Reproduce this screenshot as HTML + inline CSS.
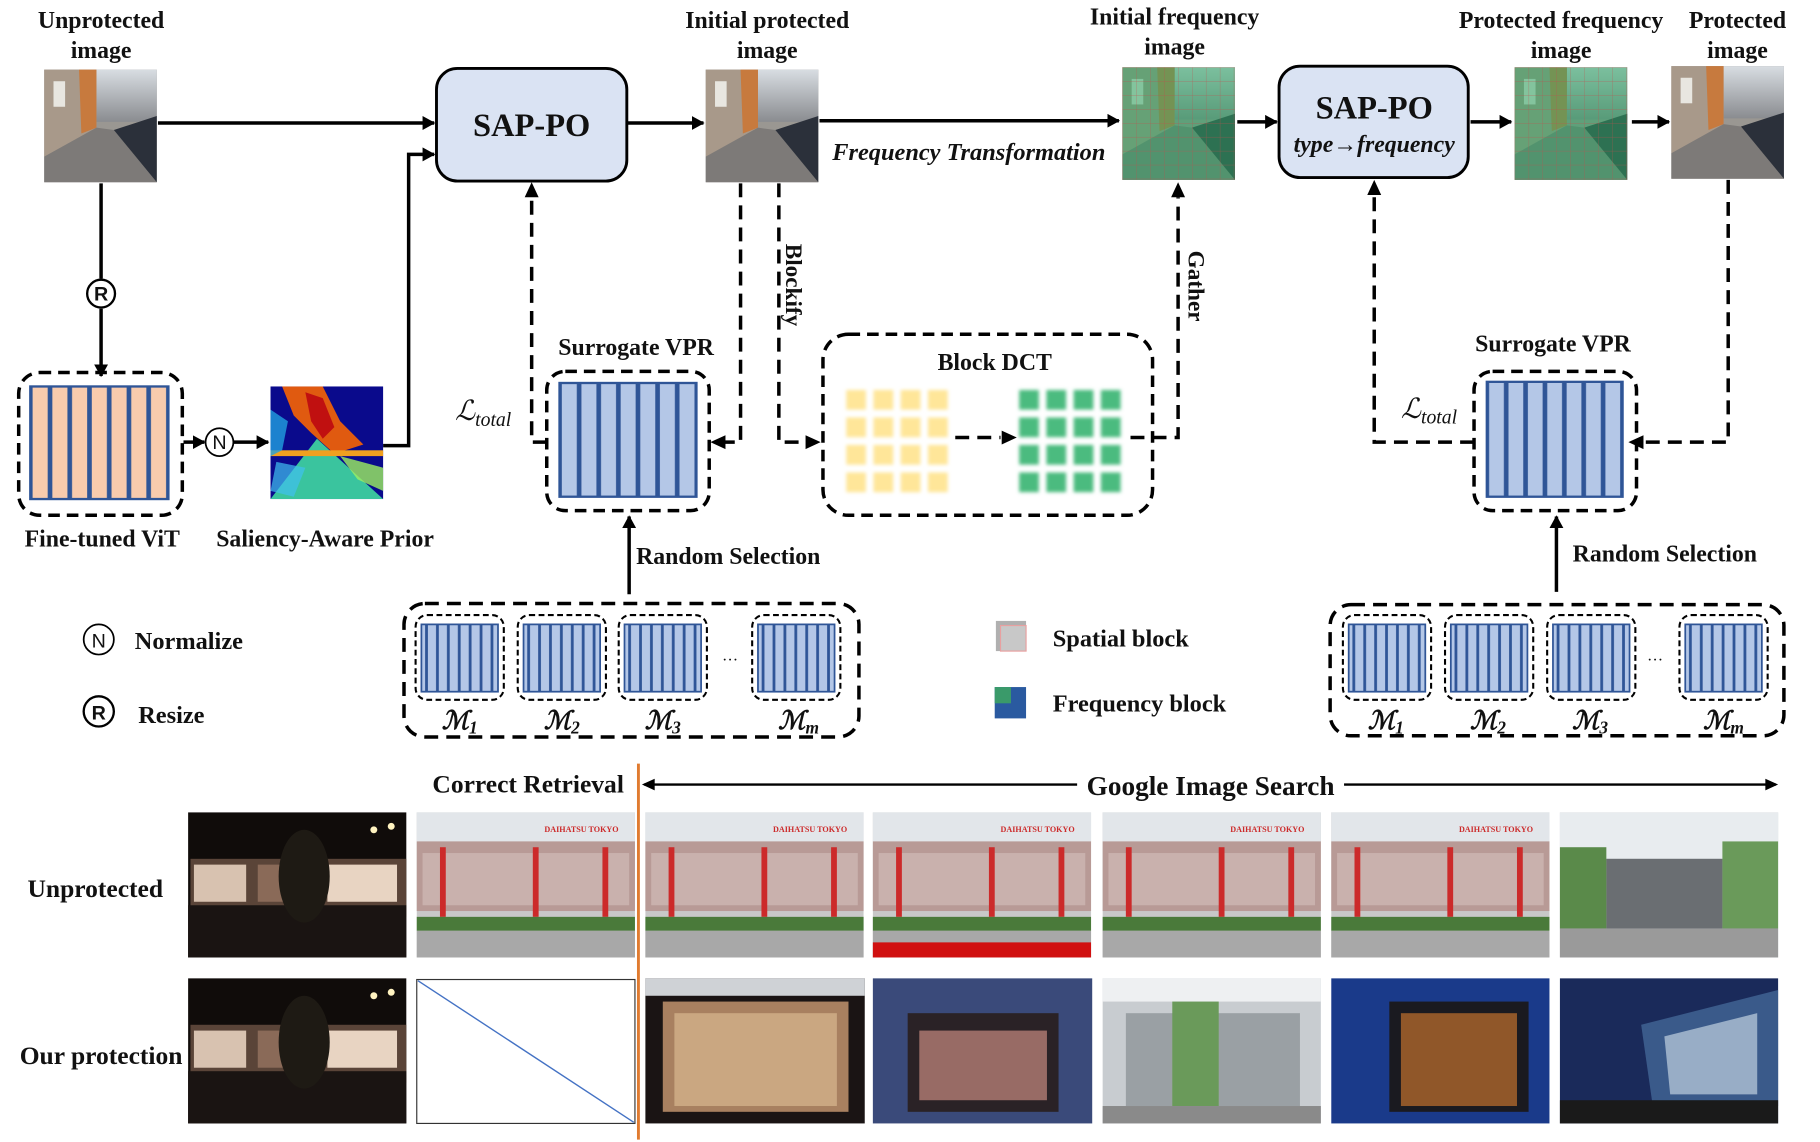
<!DOCTYPE html>
<html><head><meta charset="utf-8"><style>
html,body{margin:0;padding:0;background:#fff;width:1820px;height:1142px;overflow:hidden}
svg{display:block}
text{font-family:"Liberation Serif",serif;font-weight:bold;fill:#111}
</style></head><body>
<svg width="1820" height="1142" viewBox="0 0 1568 984" xmlns="http://www.w3.org/2000/svg">
<defs>
<marker id="ah2" markerWidth="12" markerHeight="12" refX="10" refY="6" orient="auto" markerUnits="userSpaceOnUse"><path d="M0,0 L11,6 L0,12 Z" fill="#000"/></marker>
<pattern id="vitbars" x="26" y="0" width="17" height="2000" patternUnits="userSpaceOnUse"><rect x="1" y="-10" width="15" height="2020" fill="#f8cbad" stroke="#2f5597" stroke-width="2"/></pattern>
<pattern id="vprbars" x="482" y="0" width="16.9" height="2000" patternUnits="userSpaceOnUse"><rect x="1" y="-10" width="14.9" height="2020" fill="#b4c7e7" stroke="#2f5597" stroke-width="2"/></pattern>
<pattern id="vprbars2" x="1281" y="0" width="16.7" height="2000" patternUnits="userSpaceOnUse"><rect x="1" y="-10" width="14.7" height="2020" fill="#b4c7e7" stroke="#2f5597" stroke-width="2"/></pattern>
<pattern id="mb" x="0" y="0" width="9.4" height="2000" patternUnits="userSpaceOnUse"><rect x="0.6" y="-10" width="8.2" height="2020" fill="#b4c7e7" stroke="#2f5597" stroke-width="1.2"/></pattern>
<pattern id="ysq" x="729" y="336" width="23.5" height="23.7" patternUnits="userSpaceOnUse"><rect x="0" y="0" width="17" height="17" fill="#ffe699"/></pattern>
<pattern id="gsq" x="878" y="336" width="23.5" height="23.7" patternUnits="userSpaceOnUse"><rect x="0" y="0" width="17" height="17" fill="#4cbb7f"/></pattern>
<pattern id="grid" x="0" y="0" width="12" height="12" patternUnits="userSpaceOnUse"><path d="M12,0 L0,0 0,12" fill="none" stroke="#c0504d" stroke-width="0.6" opacity="0.7"/></pattern>
<filter id="blur"><feGaussianBlur stdDeviation="1.5"/></filter>
<linearGradient id="sky" x1="0" y1="0" x2="0" y2="1"><stop offset="0" stop-color="#d8dde2"/><stop offset="1" stop-color="#8a8c90"/></linearGradient>
<g id="street">
 <rect width="97" height="97" fill="#9a9792"/>
 <rect x="45" width="52" height="45" fill="url(#sky)"/>
 <polygon points="0,0 45,0 45,55 0,75" fill="#a8998a"/>
 <polygon points="30,0 45,0 45,50 32,55" fill="#c77a3e"/>
 <polygon points="0,75 45,50 60,52 97,97 0,97" fill="#7d7a78"/>
 <polygon points="60,52 97,40 97,97" fill="#2b303a"/>
 <rect x="8" y="10" width="10" height="22" fill="#e8e6e0"/>
</g>
<g id="night">
 <rect width="188" height="125" fill="#100c0a"/>
 <rect x="2" y="40" width="186" height="50" fill="#5a4438"/>
 <rect x="5" y="45" width="45" height="32" fill="#d8c2b0"/>
 <rect x="120" y="45" width="60" height="32" fill="#e8d4c2"/>
 <rect x="60" y="45" width="50" height="32" fill="#8a6a58"/>
 <rect x="0" y="80" width="188" height="45" fill="#1a1412"/>
 <ellipse cx="100" cy="55" rx="22" ry="40" fill="#1e1a14"/>
 <circle cx="160" cy="15" r="3" fill="#fff3c0"/><circle cx="175" cy="12" r="3" fill="#fff3c0"/>
</g>
<g id="day">
 <rect width="188" height="125" fill="#c8c8c8"/>
 <rect x="0" y="0" width="188" height="25" fill="#e2e6ea"/>
 <rect x="0" y="25" width="188" height="60" fill="#b89a96"/>
 <rect x="5" y="35" width="178" height="45" fill="#c9b1ad"/>
 <rect x="20" y="30" width="5" height="60" fill="#cc2a2a"/>
 <rect x="100" y="30" width="5" height="60" fill="#cc2a2a"/>
 <rect x="160" y="30" width="5" height="60" fill="#cc2a2a"/>
 <rect x="0" y="90" width="188" height="12" fill="#4a7a3a"/>
 <rect x="0" y="102" width="188" height="23" fill="#a8a8a8"/>
 <text x="110" y="17" font-size="7" style="fill:#cc2a2a">DAIHATSU TOKYO</text>
</g>
<g id="modelbox">
 <rect x="0" y="0" width="76" height="73" rx="10" fill="none" stroke="#000" stroke-width="1.8" stroke-dasharray="5,3"/>
 <rect x="5" y="8" width="66" height="58" fill="url(#mb)" stroke="#2f5597" stroke-width="1.5"/>
</g>
</defs>

<g font-size="20.5" text-anchor="middle">
<text x="87" y="24">Unprotected</text><text x="87" y="50">image</text>
<text x="661" y="24">Initial protected</text><text x="661" y="50">image</text>
<text x="1012" y="21">Initial frequency</text><text x="1012" y="47">image</text>
<text x="1345" y="24">Protected frequency</text><text x="1345" y="50">image</text>
<text x="1497" y="24">Protected</text><text x="1497" y="50">image</text>
</g>

<use href="#street" x="38" y="60"/>
<use href="#street" x="608" y="60"/>
<use href="#street" x="1440" y="57"/>
<g transform="translate(967,58)"><use href="#street"/><rect width="97" height="97" fill="#2fa866" opacity="0.55"/><rect width="97" height="97" fill="url(#grid)"/></g>
<g transform="translate(1305,58)"><use href="#street"/><rect width="97" height="97" fill="#2fa866" opacity="0.55"/><rect width="97" height="97" fill="url(#grid)"/></g>

<rect x="376" y="59" width="164" height="97" rx="18" fill="#dae3f3" stroke="#000" stroke-width="2.5"/>
<text x="458" y="117" font-size="28" text-anchor="middle">SAP-PO</text>
<rect x="1102" y="57" width="163" height="96" rx="18" fill="#dae3f3" stroke="#000" stroke-width="2.5"/>
<text x="1184" y="102" font-size="28" text-anchor="middle">SAP-PO</text>
<text x="1184" y="131" font-size="20.5" font-style="italic" text-anchor="middle">type→frequency</text>

<g stroke="#000" stroke-width="3" fill="none">
<line x1="136" y1="106" x2="374" y2="106" marker-end="url(#ah2)"/>
<line x1="541" y1="106" x2="606" y2="106" marker-end="url(#ah2)"/>
<line x1="706" y1="104" x2="964" y2="104" marker-end="url(#ah2)"/>
<line x1="1066" y1="105" x2="1100" y2="105" marker-end="url(#ah2)"/>
<line x1="1267" y1="105" x2="1302" y2="105" marker-end="url(#ah2)"/>
<line x1="1406" y1="105" x2="1438" y2="105" marker-end="url(#ah2)"/>
<line x1="87" y1="158" x2="87" y2="240"/>
<line x1="87" y1="266" x2="87" y2="324" marker-end="url(#ah2)"/>
<line x1="158" y1="381" x2="176" y2="381" marker-end="url(#ah2)"/>
<line x1="201" y1="381" x2="231" y2="381" marker-end="url(#ah2)"/>
<polyline points="330,384 352,384 352,133 374,133" marker-end="url(#ah2)"/>
<line x1="542" y1="512" x2="542" y2="445" marker-end="url(#ah2)"/>
<line x1="1341" y1="510" x2="1341" y2="445" marker-end="url(#ah2)"/>
</g>
<text x="717" y="138" font-size="21" font-style="italic">Frequency Transformation</text>

<g font-size="17" text-anchor="middle">
<circle cx="87" cy="253" r="12" fill="#fff" stroke="#000" stroke-width="2"/><text x="87" y="259" style="font-family:'Liberation Sans',sans-serif">R</text>
<circle cx="189" cy="381" r="12" fill="#fff" stroke="#000" stroke-width="1.5"/><text x="189" y="387" style="font-family:'Liberation Sans',sans-serif;font-weight:normal">N</text>
<circle cx="85" cy="551" r="13" fill="#fff" stroke="#000" stroke-width="1.5"/><text x="85" y="558" style="font-family:'Liberation Sans',sans-serif;font-weight:normal">N</text>
<circle cx="85" cy="613" r="13" fill="#fff" stroke="#000" stroke-width="2"/><text x="85" y="620" style="font-family:'Liberation Sans',sans-serif">R</text>
</g>

<rect x="16" y="321" width="141" height="123" rx="18" fill="none" stroke="#000" stroke-width="3" stroke-dasharray="10,6"/>
<rect x="26" y="333" width="119" height="97" fill="url(#vitbars)" stroke="#2f5597" stroke-width="2"/>
<g transform="translate(233,333)">
<rect width="97" height="97" fill="#0a0a8c"/>
<path d="M0,97 L40,45 L97,97 Z" fill="#3fd8a0" opacity="0.9"/>
<path d="M10,0 L45,0 L60,30 L80,50 L55,58 L35,40 L20,25 Z" fill="#e05a10"/>
<path d="M30,5 L45,10 L55,35 L45,45 L35,30 Z" fill="#c01010"/>
<rect x="0" y="55" width="97" height="5" fill="#f0a020"/>
<path d="M0,20 L15,30 L10,55 L0,60 Z" fill="#20a0e0" opacity="0.8"/>
<path d="M60,60 L97,70 L97,90 L75,80 Z" fill="#9ef060" opacity="0.8"/>
<path d="M5,65 L30,70 L20,95 L0,90 Z" fill="#40c0f0" opacity="0.7"/>
</g>
<g font-size="20.5" text-anchor="middle">
<text x="88" y="471">Fine-tuned ViT</text>
<text x="280" y="471">Saliency-Aware Prior</text>
</g>

<g stroke="#000" stroke-width="3" fill="none" stroke-dasharray="12,7">
<polyline points="471,381 458,381 458,170"/>
<polyline points="638,158 638,381 624,381"/>
<polyline points="671,158 671,381 695,381"/>
<line x1="823" y1="377" x2="862" y2="377"/>
<polyline points="974,377 1015,377 1015,170"/>
<polyline points="1270,381 1184,381 1184,170"/>
<polyline points="1489,155 1489,381 1416,381"/>
</g>
<g fill="#000">
<path d="M458,157 L452,170 L464,170 Z"/>
<path d="M1015,157 L1009,170 L1021,170 Z"/>
<path d="M1184,155 L1178,168 L1190,168 Z"/>
<path d="M612,381 L625,375 L625,387 Z"/>
<path d="M707,381 L694,375 L694,387 Z"/>
<path d="M876,377 L863,371 L863,383 Z"/>
<path d="M1403,381 L1416,375 L1416,387 Z"/>
</g>
<text transform="translate(677,210) rotate(90)" font-size="20">Blockify</text>
<text transform="translate(1024,216) rotate(90)" font-size="20">Gather</text>

<text x="392" y="362" font-size="24" font-style="italic" style="font-weight:normal">ℒ<tspan font-size="17" dy="5">total</tspan></text>
<text x="1207" y="360" font-size="24" font-style="italic" style="font-weight:normal">ℒ<tspan font-size="17" dy="5">total</tspan></text>

<text x="548" y="306" font-size="20.5" text-anchor="middle">Surrogate VPR</text>
<rect x="471" y="320" width="140" height="120" rx="16" fill="none" stroke="#000" stroke-width="3" stroke-dasharray="10,6"/>
<rect x="482" y="330" width="118" height="98" fill="url(#vprbars)" stroke="#2f5597" stroke-width="2"/>
<text x="1338" y="303" font-size="20.5" text-anchor="middle">Surrogate VPR</text>
<rect x="1270" y="320" width="140" height="120" rx="16" fill="none" stroke="#000" stroke-width="3" stroke-dasharray="10,6"/>
<rect x="1281" y="329" width="117" height="99" fill="url(#vprbars2)" stroke="#2f5597" stroke-width="2"/>

<rect x="709" y="288" width="284" height="156" rx="22" fill="none" stroke="#000" stroke-width="3" stroke-dasharray="10,6"/>
<text x="857" y="319" font-size="20.5" text-anchor="middle">Block DCT</text>
<rect x="729" y="336" width="88" height="89" fill="url(#ysq)" filter="url(#blur)"/>
<rect x="878" y="336" width="88" height="89" fill="url(#gsq)" filter="url(#blur)"/>

<text x="548" y="486" font-size="20.5">Random Selection</text>
<text x="1355" y="484" font-size="20.5">Random Selection</text>

<rect x="348" y="520" width="392" height="115" rx="18" fill="none" stroke="#000" stroke-width="3" stroke-dasharray="12,7"/>
<use href="#modelbox" x="358" y="530"/><use href="#modelbox" x="446" y="530"/><use href="#modelbox" x="533" y="530"/><use href="#modelbox" x="648" y="530"/>
<text x="622" y="573" font-size="14" style="font-weight:normal">···</text>
<g font-size="22" font-style="italic" style="font-weight:normal" text-anchor="middle">
<text x="396" y="628">ℳ<tspan font-size="15" dy="4">1</tspan></text>
<text x="484" y="628">ℳ<tspan font-size="15" dy="4">2</tspan></text>
<text x="571" y="628">ℳ<tspan font-size="15" dy="4">3</tspan></text>
<text x="688" y="628">ℳ<tspan font-size="15" dy="4">m</tspan></text>
</g>
<rect x="1146" y="521" width="391" height="113" rx="18" fill="none" stroke="#000" stroke-width="3" stroke-dasharray="12,7"/>
<use href="#modelbox" x="1157" y="530"/><use href="#modelbox" x="1245" y="530"/><use href="#modelbox" x="1333" y="530"/><use href="#modelbox" x="1447" y="530"/>
<text x="1419" y="573" font-size="14" style="font-weight:normal">···</text>
<g font-size="22" font-style="italic" style="font-weight:normal" text-anchor="middle">
<text x="1194" y="628">ℳ<tspan font-size="15" dy="4">1</tspan></text>
<text x="1282" y="628">ℳ<tspan font-size="15" dy="4">2</tspan></text>
<text x="1370" y="628">ℳ<tspan font-size="15" dy="4">3</tspan></text>
<text x="1485" y="628">ℳ<tspan font-size="15" dy="4">m</tspan></text>
</g>

<text x="116" y="559" font-size="21">Normalize</text>
<text x="119" y="623" font-size="21">Resize</text>
<rect x="858" y="535" width="26" height="26" fill="#b0b0b0"/><rect x="862" y="539" width="22" height="22" fill="#c8c8c8" stroke="#e8a0a0" stroke-width="1"/>
<text x="907" y="557" font-size="21">Spatial block</text>
<rect x="857" y="592" width="27" height="27" fill="#2a5aa0"/><rect x="857" y="592" width="14" height="14" fill="#3a9a6a"/>
<text x="907" y="613" font-size="21">Frequency block</text>

<text x="455" y="683" font-size="22" text-anchor="middle">Correct Retrieval</text>
<line x1="550" y1="658" x2="550" y2="982" stroke="#e07b30" stroke-width="2.5"/>
<line x1="555" y1="676" x2="928" y2="676" stroke="#000" stroke-width="2"/>
<line x1="1158" y1="676" x2="1530" y2="676" stroke="#000" stroke-width="2"/>
<path d="M553,676 L564,671 L564,681 Z" fill="#000"/>
<path d="M1532,676 L1521,671 L1521,681 Z" fill="#000"/>
<text x="1043" y="685" font-size="23.5" text-anchor="middle">Google Image Search</text>
<text x="82" y="773" font-size="22" text-anchor="middle">Unprotected</text>
<text x="87" y="917" font-size="22" text-anchor="middle">Our protection</text>

<use href="#night" x="162" y="700"/>
<use href="#day" x="359" y="700"/>
<use href="#day" x="556" y="700"/>
<use href="#day" x="752" y="700"/>
<rect x="752" y="812" width="188" height="13" fill="#d01010"/>
<use href="#day" x="950" y="700"/>
<use href="#day" x="1147" y="700"/>
<g transform="translate(1344,700)"><rect width="188" height="125" fill="#b8bcc0"/><rect y="0" width="188" height="40" fill="#e8ecef"/><rect x="40" y="40" width="100" height="60" fill="#6a6e72"/><rect x="0" y="30" width="40" height="70" fill="#5a8a4a"/><rect x="140" y="25" width="48" height="75" fill="#6a9a5a"/><rect y="100" width="188" height="25" fill="#9a9a9a"/></g>

<use href="#night" x="162" y="843"/>
<rect x="359" y="844" width="188" height="124" fill="#fff" stroke="#333" stroke-width="1"/>
<line x1="360" y1="845" x2="546" y2="967" stroke="#4472c4" stroke-width="1.2"/>
<g transform="translate(556,843)"><rect width="189" height="125" fill="#1a1414"/><rect x="15" y="20" width="160" height="95" fill="#a88060"/><rect x="25" y="30" width="140" height="80" fill="#d8b890" opacity="0.7"/><rect y="0" width="189" height="15" fill="#cfd2d6"/></g>
<g transform="translate(752,843)"><rect width="189" height="125" fill="#3a4a7a"/><rect x="30" y="30" width="130" height="85" fill="#2a2226"/><rect x="40" y="45" width="110" height="60" fill="#c88a80" opacity="0.7"/></g>
<g transform="translate(950,843)"><rect width="188" height="125" fill="#c8ccd0"/><rect y="0" width="188" height="20" fill="#eef0f2"/><rect x="20" y="30" width="150" height="80" fill="#9aa0a4"/><rect x="60" y="20" width="40" height="90" fill="#6a9a5a"/><rect y="110" width="188" height="15" fill="#8a8a8a"/></g>
<g transform="translate(1147,843)"><rect width="188" height="125" fill="#1a3a8a"/><rect x="50" y="20" width="120" height="95" fill="#1a1a20"/><rect x="60" y="30" width="100" height="80" fill="#e08030" opacity="0.6"/></g>
<g transform="translate(1344,843)"><rect width="188" height="125" fill="#1a2a5a"/><polygon points="70,40 188,10 188,110 80,110" fill="#3a5a8a"/><polygon points="90,50 170,30 170,100 95,100" fill="#c0d0e0" opacity="0.7"/><rect y="105" width="188" height="20" fill="#1a1a1a"/></g>
</svg>
</body></html>
